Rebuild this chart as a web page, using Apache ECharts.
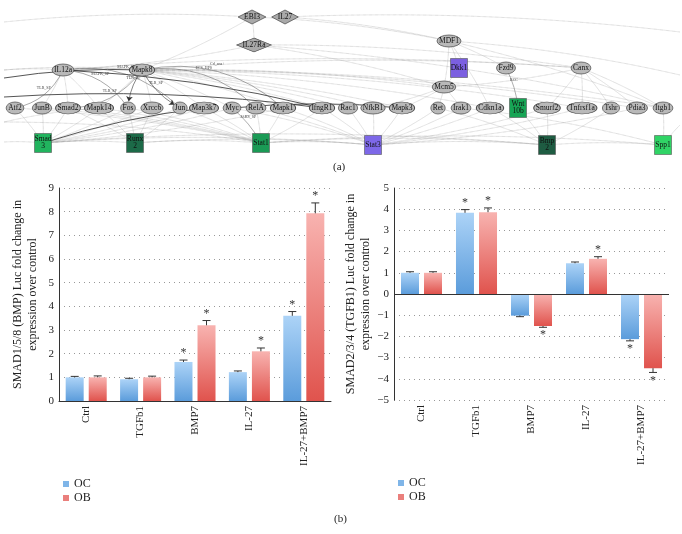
<!DOCTYPE html>
<html>
<head>
<meta charset="utf-8">
<script src="https://cdn.jsdelivr.net/npm/echarts@6/dist/echarts.min.js"></script>
<style>
html, body { margin: 0; padding: 0; background: #fff; }
#main { width: 682px; height: 534px; }
</style>
</head>
<body>
<div id="main"></div>
<script>
// ---- bar chart data (b) ----
var categories = ['Ctrl', 'TGFb1', 'BMP7', 'IL-27', 'IL-27+BMP7'];

// SMAD1/5/8 (BMP)
var bmpOC = [1.0, 0.92, 1.65, 1.22, 3.6];
var bmpOCErr = [0.04, 0.04, 0.08, 0.05, 0.18];
var bmpOCSig = [0, 0, 1, 0, 1];
var bmpOB = [1.0, 1.0, 3.2, 2.1, 7.93];
var bmpOBErr = [0.06, 0.05, 0.2, 0.14, 0.44];
var bmpOBSig = [0, 0, 1, 1, 1];

// SMAD2/3/4 (TGFB1)
var tgfOC = [1.0, 3.83, -1.02, 1.45, -2.13];
var tgfOCErr = [0.05, 0.15, 0.05, 0.06, 0.08];
var tgfOCSig = [0, 1, 0, 0, 1];
var tgfOB = [1.0, 3.86, -1.51, 1.66, -3.5];
var tgfOBErr = [0.05, 0.2, 0.06, 0.1, 0.2];
var tgfOBSig = [0, 1, 1, 1, 1];

var bmpTicks = [0, 9, 1];
var tgfTicks = [-5, 5, 1];

// ---- network data (a) ----
var netNames = ['EBI3', 'IL27', 'IL27Ra', 'IL12a', 'Mapk8', 'MDF1', 'Dkk1', 'Fzd9', 'Canx', 'Mcm5',
	'Atf2', 'JunB', 'Smad2', 'Mapk14', 'Fos', 'Xrcc6', 'Jun', 'Map3k7', 'Myc', 'RelA', 'Mapk1',
	'IfngR1', 'Rac1', 'NfkB1', 'Mapk3', 'Ret', 'Irak1', 'Cdkn1a', 'Wnt10b', 'Smurf2', 'Tnfrsf1a', 'Tshr', 'Pdia3', 'Itgb1',
	'Smad3', 'Runx2', 'Stat1', 'Stat3', 'Bmp2', 'Spp1'];
var netLabels = ['EBI3', 'IL27', 'IL27Ra', 'IL12a', 'Mapk8', 'MDF1', 'Dkk1', 'Fzd9', 'Canx', 'Mcm5',
	'Atf2', 'JunB', 'Smad2', 'Mapk14', 'Fos', 'Xrcc6', 'Jun', 'Map3k7', 'Myc', 'RelA', 'Mapk1',
	'IfngR1', 'Rac1', 'NfkB1', 'Mapk3', 'Ret', 'Irak1', 'Cdkn1a', 'Wnt\n10b', 'Smurf2', 'Tnfrsf1a', 'Tshr', 'Pdia3', 'Itgb1',
	'Smad\n3', 'Runx\n2', 'Stat1', 'Stat3', 'Bmp\n2', 'Spp1'];
var netX = [252, 285, 254, 63, 142, 449, 459, 506, 581, 444,
	15, 42, 68, 99, 128, 152, 180, 204, 232, 256, 283,
	322, 348, 373, 402, 438, 461, 490, 518, 547, 582, 611, 637, 663,
	43, 135, 261, 373, 547, 663];
var netY = [17, 17, 45, 70, 70, 41, 68, 68, 68, 87,
	108, 108, 108, 108, 108, 108, 108, 108, 108, 108, 108,
	108, 108, 108, 108, 108, 108, 108, 108, 108, 108, 108, 108, 108,
	143, 143, 143, 145, 145, 145];
var netKind = ['d', 'd', 'd', 'e', 'e', 'e', 's', 'e', 'e', 'e',
	'e', 'e', 'e', 'e', 'e', 'e', 'e', 'e', 'e', 'e', 'e',
	'e', 'e', 'e', 'e', 'e', 'e', 'e', 's', 'e', 'e', 'e', 'e', 'e',
	's', 's', 's', 's', 's', 's'];
// off-picture end points of long edges
var anchorNames = ['L0', 'L1', 'L2', 'L3', 'L4', 'L5', 'R0', 'R1', 'R2'];
var anchorX = [4, 4, 4, 4, 4, 4, 680, 680, 680];
var anchorY = [22, 70, 78, 97, 122, 142, 32, 75, 125];

var dottedEdges = [
	['L0', 'EBI3'], ['EBI3', 'IL27Ra'], ['EBI3', 'Mapk8'], ['EBI3', 'MDF1'], ['IL27', 'MDF1'], ['IL27', 'R0'],
	['IL27Ra', 'IL12a'], ['IL27Ra', 'Canx'], ['IL27Ra', 'Mcm5'], ['IL27Ra', 'Itgb1'],
	['L1', 'IL12a'], ['L1', 'Mapk8'], ['IL12a', 'Mapk8'], ['Mapk8', 'Mcm5'], ['Mapk8', 'Canx'], ['Mapk8', 'Cdkn1a'],
	['Mapk8', 'IfngR1'], ['Mapk8', 'Rac1'], ['Mapk8', 'NfkB1'], ['Mapk8', 'Mapk3'], ['Mapk8', 'Itgb1'], ['Mapk8', 'Pdia3'],
	['Mapk8', 'Tnfrsf1a'], ['IL12a', 'Canx'],
	['Mapk8', 'Mapk14'], ['Mapk8', 'Xrcc6'], ['Mapk8', 'Map3k7'], ['Mapk8', 'Myc'], ['Mapk8', 'Mapk1'],
	['IL12a', 'JunB'], ['IL12a', 'Smad2'], ['IL12a', 'Mapk14'],
	['MDF1', 'Dkk1'], ['MDF1', 'Mcm5'], ['MDF1', 'Fzd9'], ['MDF1', 'Cdkn1a'], ['MDF1', 'Itgb1'], ['MDF1', 'R1'],
	['Canx', 'Mcm5'], ['Canx', 'Smurf2'], ['Canx', 'Tnfrsf1a'], ['Canx', 'Tshr'], ['Canx', 'Pdia3'], ['Canx', 'Itgb1'],
	['Mcm5', 'Ret'], ['Mcm5', 'Mapk3'], ['Mcm5', 'NfkB1'], ['Mcm5', 'Irak1'], ['Dkk1', 'Mcm5'],
	['Atf2', 'Smad3'], ['JunB', 'Smad3'], ['Smad2', 'Smad3'], ['Mapk14', 'Smad3'], ['Map3k7', 'Smad3'], ['Mapk1', 'Smad3'],
	['Xrcc6', 'Smad3'], ['Jun', 'Smad3'], ['Fos', 'Smad3'], ['Myc', 'Smad3'],
	['Fos', 'Runx2'], ['Xrcc6', 'Runx2'], ['Jun', 'Runx2'], ['Smad2', 'Runx2'], ['Mapk14', 'Runx2'],
	['Jun', 'Stat1'], ['RelA', 'Stat1'], ['Mapk1', 'Stat1'], ['IfngR1', 'Stat1'], ['Map3k7', 'Stat1'], ['Mapk14', 'Stat1'], ['Fos', 'Stat1'],
	['Atf2', 'Stat1'], ['JunB', 'Stat1'], ['Smad2', 'Stat1'],
	['IfngR1', 'Stat3'], ['Rac1', 'Stat3'], ['NfkB1', 'Stat3'], ['Mapk3', 'Stat3'], ['Ret', 'Stat3'], ['Irak1', 'Stat3'],
	['Cdkn1a', 'Stat3'], ['Mapk1', 'Stat3'], ['Tnfrsf1a', 'Stat3'], ['Smurf2', 'Stat3'], ['Pdia3', 'Stat3'],
	['RelA', 'Stat3'], ['Myc', 'Stat3'],
	['Smurf2', 'Bmp2'], ['Itgb1', 'Spp1'], ['Wnt10b', 'Bmp2'], ['Tshr', 'Bmp2'], ['Cdkn1a', 'Bmp2'], ['Ret', 'Bmp2'], ['Irak1', 'Spp1'],
	['L5', 'Smad3'], ['Smad3', 'Runx2'], ['Runx2', 'Stat1'], ['Stat1', 'Stat3'], ['Stat3', 'Bmp2'], ['Bmp2', 'Spp1'],
	['Runx2', 'Stat3'], ['Stat1', 'Bmp2'], ['Smad3', 'Bmp2'], ['Stat1', 'Spp1'], ['Spp1', 'R2'],
	['L4', 'Mapk14'], ['L4', 'Stat1'], ['Smad3', 'Stat3']
];
var darkEdges = [
	['L2', 'Mapk8'], ['IL12a', 'IfngR1'], ['L3', 'IfngR1'], ['Smad3', 'Map3k7'], ['Myc', 'Mapk3']
];
var curvedEdges = [
	['IL12a', 'Atf2', 'TLR_SP'], ['IL12a', 'Fos', 'MAPK_SP'], ['Mapk8', 'Smad2', 'TLR_SP'],
	['IL12a', 'Jun', 'MAPK_SP'], ['Mapk8', 'RelA', 'ECS_HPS'], ['Mapk8', 'Mapk1', 'Cd_ana+']
];
var arrowEdges = [['Mapk8', 'Fos', 'TLR_SP'], ['Mapk8', 'Jun', 'TLR_SP']];
var grayEdges = [['Myc', 'Stat1', 'JAKS_SP'], ['Fzd9', 'Wnt10b', 'RCC']];

var squareColors = {
	Dkk1: '#7b5fe0', Wnt10b: '#17a555', Smad3: '#21b45e', Runx2: '#1c6a48',
	Stat1: '#1a9a55', Stat3: '#7d68e8', Bmp2: '#1e5c42', Spp1: '#30d466'
};

var serif = '"Liberation Serif", "DejaVu Serif", serif';
var chart = echarts.init(document.getElementById('main'));

var measureCtx = document.createElement('canvas').getContext('2d');
measureCtx.font = '7.5px ' + serif;

var ellipsePath = 'path://M0,5A10,5,0,1,1,20,5A10,5,0,1,1,0,5Z';

function buildNodes() {
	var nodes = [];
	for (var i = 0; i < netNames.length; i++) {
		var kind = netKind[i];
		var label = netLabels[i];
		var node = { name: netNames[i], value: [netX[i], netY[i]] };
		node.label = { show: true, formatter: label, fontSize: 7.5, fontFamily: serif, color: '#111', lineHeight: 7 };
		if (kind === 'e') {
			node.symbol = ellipsePath;
			node.symbolSize = [measureCtx.measureText(label).width + 4, 12];
			node.itemStyle = { color: '#b9b9b9', borderColor: '#4a4a4a', borderWidth: 0.7 };
		} else if (kind === 'd') {
			node.symbol = 'diamond';
			node.symbolSize = [measureCtx.measureText(label).width + 12, 14];
			node.itemStyle = { color: '#a9a9a9', borderColor: '#4a4a4a', borderWidth: 0.7 };
		} else {
			node.symbol = 'rect';
			node.symbolSize = [17, 19];
			node.itemStyle = { color: squareColors[netNames[i]], borderColor: '#555', borderWidth: 0.6 };
		}
		nodes.push(node);
	}
	for (var j = 0; j < anchorNames.length; j++) {
		nodes.push({ name: anchorNames[j], value: [anchorX[j], anchorY[j]], symbolSize: 0, label: { show: false } });
	}
	return nodes;
}

function buildLinks() {
	var links = [];
	var smallLabel = { show: true, fontSize: 4, fontFamily: serif, color: '#444', rotate: 0 };
	dottedEdges.forEach(function (e) {
		links.push({ source: e[0], target: e[1] });
	});
	darkEdges.forEach(function (e) {
		links.push({ source: e[0], target: e[1], lineStyle: { type: 'solid', color: '#2a2a2a', width: 0.8, curveness: 0.05 } });
	});
	curvedEdges.forEach(function (e) {
		links.push({
			source: e[0], target: e[1], value: e[2],
			lineStyle: { type: 'solid', color: '#555', width: 0.5, curveness: 0.25 },
			label: Object.assign({ formatter: e[2] }, smallLabel)
		});
	});
	arrowEdges.forEach(function (e) {
		links.push({
			source: e[0], target: e[1],
			symbol: ['none', 'arrow'], symbolSize: [0, 5],
			lineStyle: { type: 'solid', color: '#333', width: 0.6, curveness: -0.15 },
			label: Object.assign({ formatter: e[2] }, smallLabel)
		});
	});
	grayEdges.forEach(function (e) {
		links.push({
			source: e[0], target: e[1],
			lineStyle: { type: 'solid', color: '#777', width: 0.6, curveness: 0.1 },
			label: Object.assign({ formatter: e[2] }, smallLabel)
		});
	});
	return links;
}

function gradient(top, bottom) {
	return new echarts.graphic.LinearGradient(0, 0, 0, 1, [
		{ offset: 0, color: top },
		{ offset: 1, color: bottom }
	]);
}
var ocColor = gradient('#acd3f7', '#5b9cdb');
var obColor = gradient('#f8b3b0', '#e0534d');

function errData(vals, errs, sigs) {
	var out = [];
	for (var i = 0; i < vals.length; i++) out.push([i, vals[i], errs[i], sigs[i]]);
	return out;
}

function errRender(offset) {
	return function (params, api) {
		var cat = api.value(0), v = api.value(1), e = api.value(2), sig = api.value(3);
		var dir = v < 0 ? -1 : 1;
		var p0 = api.coord([cat, v]);
		var p1 = api.coord([cat, v + dir * e]);
		var x = p0[0] + offset;
		var children = [
			{ type: 'line', shape: { x1: x, y1: p0[1], x2: x, y2: p1[1] }, style: { stroke: '#333', lineWidth: 1 } },
			{ type: 'line', shape: { x1: x - 4, y1: p1[1], x2: x + 4, y2: p1[1] }, style: { stroke: '#333', lineWidth: 1 } }
		];
		if (sig) {
			children.push({
				type: 'text',
				style: {
					text: '*', x: x, y: dir > 0 ? p1[1] - 1 : p1[1] + 2,
					align: 'center', verticalAlign: dir > 0 ? 'bottom' : 'top',
					font: '12px ' + serif, fill: '#333'
				}
			});
		}
		return { type: 'group', children: children };
	};
}

function minusFmt(v) { return String(v).replace('-', '\u2212'); }

function valueAxis(gridIndex, ticks, name, nameGap) {
	return {
		type: 'value', gridIndex: gridIndex, min: ticks[0], max: ticks[1], interval: ticks[2],
		name: name, nameLocation: 'middle', nameGap: nameGap,
		nameTextStyle: { fontFamily: serif, fontSize: 12, lineHeight: 15, color: '#222' },
		axisLine: { show: true, lineStyle: { color: '#333', width: 1 } },
		axisTick: { show: false },
		axisLabel: { fontFamily: serif, fontSize: 11, color: '#222', margin: 5, formatter: minusFmt },
		splitLine: { show: true, lineStyle: { color: '#999', type: [1, 4], width: 1 } }
	};
}

function catAxis(gridIndex, showLine) {
	return {
		type: 'category', gridIndex: gridIndex, data: categories,
		axisLine: { show: showLine, onZero: false, lineStyle: { color: '#333', width: 1 } },
		axisTick: { show: false },
		axisLabel: { rotate: 90, fontFamily: serif, fontSize: 11, color: '#222', margin: 5, interval: 0 }
	};
}

function barSeries(name, axisIdx, vals, color, extra) {
	var s = {
		name: name, type: 'bar', xAxisIndex: axisIdx, yAxisIndex: axisIdx,
		data: vals, barWidth: 18, barGap: '28%',
		itemStyle: { color: color }
	};
	return Object.assign(s, extra || {});
}

function errSeries(axisIdx, data, offset) {
	return {
		type: 'custom', xAxisIndex: axisIdx, yAxisIndex: axisIdx, z: 5,
		renderItem: errRender(offset), data: data
	};
}

var legendData = [
	{ name: 'OC', itemStyle: { color: '#7fb5e8' } },
	{ name: 'OB', itemStyle: { color: '#ea7f7c' } }
];
function legend(left, top) {
	return {
		left: left, top: top, orient: 'vertical', icon: 'rect',
		itemWidth: 6, itemHeight: 6, itemGap: 2,
		textStyle: { fontFamily: serif, fontSize: 12, color: '#222', lineHeight: 12 },
		data: legendData, selectedMode: false
	};
}

var option = {
	animation: false,
	backgroundColor: '#fff',
	graphic: [
		{ type: 'text', left: 333, top: 162, style: { text: '(a)', font: '11px ' + serif, fill: '#222' } },
		{ type: 'text', left: 334, top: 514, style: { text: '(b)', font: '11px ' + serif, fill: '#222' } }
	],
	legend: [legend(58, 473), legend(393, 472)],
	grid: [
		{ left: 59, right: 351, top: 188, bottom: 133 },
		{ left: 394, right: 13, top: 188, bottom: 134 },
		{ left: 0, top: 0, width: 682, height: 170 }
	],
	xAxis: [
		catAxis(0, true),
		catAxis(1, false),
		{ type: 'value', gridIndex: 2, min: 0, max: 682, show: false }
	],
	yAxis: [
		valueAxis(0, bmpTicks, 'SMAD1/5/8 (BMP) Luc fold change in\nexpression over control', 19),
		valueAxis(1, tgfTicks, 'SMAD2/3/4 (TGFB1) Luc fold change in\nexpression over control', 21),
		{ type: 'value', gridIndex: 2, min: 0, max: 170, inverse: true, show: false }
	],
	series: [
		barSeries('OC', 0, bmpOC, ocColor),
		barSeries('OB', 0, bmpOB, obColor),
		errSeries(0, errData(bmpOC, bmpOCErr, bmpOCSig), -11.5),
		errSeries(0, errData(bmpOB, bmpOBErr, bmpOBSig), 11.5),
		barSeries('OC', 1, tgfOC, ocColor, {
			markLine: {
				silent: true, symbol: 'none', label: { show: false },
				lineStyle: { color: '#333', type: 'solid', width: 1 },
				data: [{ yAxis: 0 }]
			}
		}),
		barSeries('OB', 1, tgfOB, obColor),
		errSeries(1, errData(tgfOC, tgfOCErr, tgfOCSig), -11.5),
		errSeries(1, errData(tgfOB, tgfOBErr, tgfOBSig), 11.5),
		{
			type: 'graph', coordinateSystem: 'cartesian2d', xAxisIndex: 2, yAxisIndex: 2,
			layout: 'none', silent: true,
			data: buildNodes(),
			links: buildLinks(),
			lineStyle: { color: '#a0a0a0', type: 'dotted', width: 0.6, opacity: 1, curveness: 0.04 },
			edgeLabel: { show: false }
		}
	]
};

chart.setOption(option);
</script>
</body>
</html>
